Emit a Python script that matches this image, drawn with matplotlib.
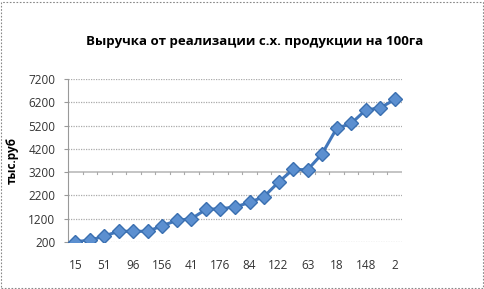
import numpy as np
import matplotlib.pyplot as plt
from matplotlib.patches import Rectangle

# data
labels = ["15", "51", "96", "156", "41", "176", "84", "122", "63", "18", "148", "2"]
values = [220, 270, 460, 660, 660, 660, 900, 1130, 1200, 1600, 1630, 1700,
          1900, 2150, 2770, 3320, 3300, 3990, 5080, 5290, 5870, 5960, 6320]
yticks = [200, 1200, 2200, 3200, 4200, 5200, 6200, 7200]

title = "Выручка от реализации с.х. продукции на 100га"
ylabel = "тыс.руб"

plt.rcParams['font.family'] = ['Open Sans', 'DejaVu Sans']

W, H = 485, 289
fig = plt.figure(figsize=(W / 100, H / 100), dpi=100)
ax = fig.add_axes([68 / W, 1 - 242 / H, (402 - 68) / W, (242 - 79) / H])

x = np.arange(len(values))
ax.plot(x, values, color="#4277bb", lw=2.2, marker="D", ms=6.8,
        markerfacecolor="#5b8fd0", markeredgecolor="#3a6fb0", markeredgewidth=1, zorder=3)

ax.set_xlim(-0.5, len(values) - 0.5)
ax.set_ylim(200, 7200)
ax.set_yticks(yticks)
ax.set_yticklabels([str(v) for v in yticks], fontsize=8.5, color="#333333")
ax.set_xticks(x[::2])
ax.set_xticklabels(labels, fontsize=8.5, color="#333333")
ax.tick_params(axis="x", length=0, pad=12)
ax.tick_params(axis="y", length=3, color="#999999", pad=6)

for v in yticks:
    if v != 3200:
        ax.axhline(v, color="#aaaaaa", lw=0.9, ls=(0, (1, 1)), zorder=1)
# category axis crosses at 3200
ax.axhline(3200, color="#c4c4c4", lw=1.4, zorder=1)
for b in np.arange(-0.5, len(values), 1.0):
    ax.plot([b, b], [3200, 3110], color="#aaaaaa", lw=0.8, zorder=1)

for s in ["top", "right", "bottom"]:
    ax.spines[s].set_visible(False)
ax.spines["left"].set_color("#999999")
ax.spines["left"].set_linestyle((0, (1, 1)))

ax.set_ylabel(ylabel, fontsize=8.5, fontweight="bold", labelpad=7)
fig.text(255 / W, 1 - 42 / H, title, ha="center", va="center",
         fontsize=9.5, fontweight="bold")

fig.patches.append(Rectangle((1 / W, 1 / H), (W - 3) / W, (H - 3) / H,
                             transform=fig.transFigure, fill=False,
                             ec="#888888", lw=0.8, ls=(0, (1.5, 1.5))))

fig.savefig("out.png", dpi=100)
